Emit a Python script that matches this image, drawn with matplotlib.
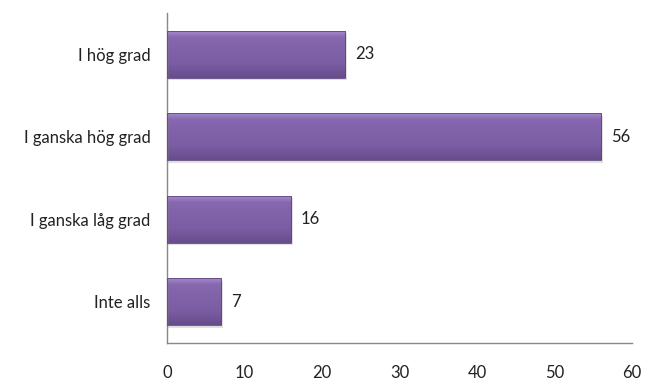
import numpy as np
import matplotlib
matplotlib.use("Agg")
from matplotlib import pyplot as plt
from matplotlib.patches import Rectangle

categories = ["I hög grad", "I ganska hög grad", "I ganska låg grad", "Inte alls"]
values = [23, 56, 16, 7]
xticks = [0, 10, 20, 30, 40, 50, 60]

plt.rcParams['font.family'] = ['Lato', 'DejaVu Sans']

fig = plt.figure(figsize=(6.47, 3.81), dpi=100)
ax = fig.add_axes([0.258, 0.0997, 0.719, 0.866])

ypos = np.arange(len(categories))[::-1]
height = 0.57

# vertical gradient for the bars
grad = np.linspace(0, 1, 64).reshape(-1, 1)
cmap = matplotlib.colors.LinearSegmentedColormap.from_list(
    "purp", [(0, "#684d8d"), (0.3, "#7a5da2"), (0.85, "#8767af"),
             (1, "#a88ed2")])

for y, v in zip(ypos, values):
    # shadow
    ax.add_patch(Rectangle((0, y - height / 2 - 0.03), v + 0.25, height,
                           facecolor="#000000", alpha=0.12, edgecolor="none",
                           zorder=1))
    bar = Rectangle((0, y - height / 2), v, height, facecolor="none",
                    edgecolor="#5e4680", linewidth=0.6, zorder=3)
    ax.add_patch(bar)
    im = ax.imshow(grad, extent=(0, v, y - height / 2, y + height / 2),
                   origin="lower", aspect="auto", cmap=cmap, zorder=2)
    im.set_clip_path(bar)
    ax.text(v + 1.3, y, str(v), va="center", ha="left", fontsize=12,
            color="#222222")

ax.set_xlim(0, 60)
ax.set_ylim(-0.5, len(categories) - 0.5)
ax.set_xticks(xticks)
ax.set_yticks(ypos)
ax.set_yticklabels(categories)
ax.tick_params(axis="both", length=0, labelsize=12, colors="#222222")
ax.tick_params(axis="x", pad=16)
ax.tick_params(axis="y", pad=12)
for s in ["top", "right"]:
    ax.spines[s].set_visible(False)
for s in ["left", "bottom"]:
    ax.spines[s].set_color("#888888")
    ax.spines[s].set_linewidth(1.0)

fig.savefig("out.png", dpi=100)
